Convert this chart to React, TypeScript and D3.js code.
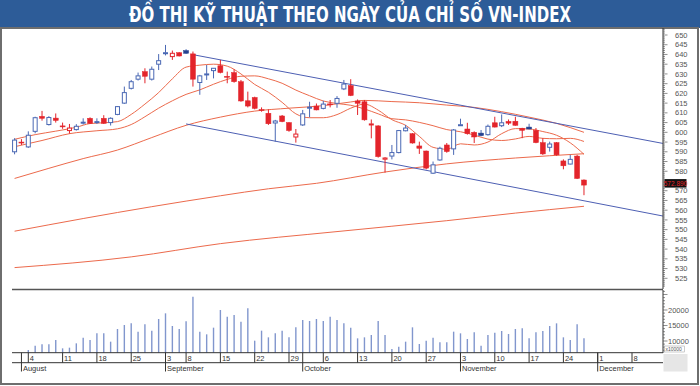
import React from "react";
import * as d3 from "d3";

const TITLE = "ĐỒ THỊ KỸ THUẬT THEO NGÀY CỦA CHỈ SỐ VN-INDEX";
const FIRST_INDEX = -2;
const PREV_CLOSE = 589;
const opens = [590, 595, 592.5, 600.5, 608.2, 604, 607.3, 603.3, 600.9, 601.4, 605.1, 607.2, 605.4, 607.2, 605, 609.2, 615, 622.6, 627.3, 631.2, 627.3, 635, 640.7, 638.9, 640.9, 642, 640.3, 625.6, 629.9, 631.7, 634.2, 628.8, 630.7, 626, 616.2, 617.9, 611.7, 609.8, 604.8, 608.4, 605, 597.6, 603.8, 612.7, 613.5, 612.3, 614.6, 614.9, 622.3, 624, 616.1, 615.7, 603.8, 603.3, 586.2, 587.8, 589.6, 600.8, 599.3, 593, 590.4, 579, 585.8, 593.5, 591.5, 603.6, 601.7, 600, 599.6, 598.8, 604.9, 603.4, 605.6, 605.7, 602.1, 602.7, 601, 594.7, 592.3, 594.7, 585.3, 583.7, 587.8, 575.5];
const highs = [597, 596.5, 600.5, 608, 611, 608.3, 609.7, 605, 604.3, 604.2, 607.2, 607.7, 607.2, 608.8, 607.7, 613.5, 623.5, 626.9, 630.7, 632.9, 633.8, 640.2, 644.9, 642, 641.2, 642.7, 641.5, 629.5, 634.6, 633, 637.2, 631.2, 632.4, 626.9, 620.9, 618.3, 612.8, 611.8, 606.4, 608.9, 605.2, 601.7, 611.5, 615.7, 614.8, 616.2, 616.6, 618.6, 626.9, 627.3, 616.9, 616.6, 606.6, 603.6, 587.2, 593.5, 601.2, 603.8, 599.6, 595.2, 590.6, 585, 592.6, 594.5, 601.7, 607, 604.9, 600.5, 601.2, 604, 608, 609.2, 606.6, 608, 602.3, 604.4, 602.2, 597, 595.2, 595, 586.1, 588.4, 588.4, 575.8];
const lows = [588.7, 593.5, 592, 599.5, 606, 603.5, 605, 601.8, 599.3, 600.9, 604, 604.3, 604.3, 604.3, 603.5, 608.8, 614.6, 622, 626.6, 625.2, 626.6, 632, 639.5, 637.2, 639, 640.3, 623.5, 619.3, 626.9, 627.7, 630.3, 625.2, 625.5, 615.7, 612.8, 611.8, 610.6, 603.8, 595.2, 605.2, 600.3, 594.7, 603.3, 607.7, 611.3, 611.8, 612.8, 612.6, 621.7, 618.6, 608.9, 606, 596.9, 587, 579.3, 586.1, 589.2, 600.5, 594.2, 588.9, 581, 578.6, 585.4, 589.5, 588.4, 603.3, 598.8, 594.5, 598, 598.3, 602.5, 602.7, 603.8, 603.4, 597, 601.5, 594.4, 588.4, 590.1, 588, 581, 583.5, 576, 567.7];
const closes = [596, 594.5, 598.5, 607.5, 607.2, 607.6, 606.1, 603, 602.2, 603.1, 605.2, 604.6, 605.5, 604.6, 607.2, 613.2, 620.4, 626, 629, 628.8, 632.4, 636.8, 640.9, 640.6, 639.2, 640.6, 627.3, 629, 630, 632.9, 630.7, 628.4, 626, 616.1, 613.5, 612.3, 611.3, 604.4, 605.8, 605.5, 600.9, 599.1, 609.5, 612.9, 611.5, 614.5, 614.2, 617.4, 624.8, 618.9, 614.9, 606.4, 604.3, 587.5, 586.8, 589.6, 600.9, 602.2, 594.5, 591.8, 581.6, 583.3, 591.8, 590.1, 601.2, 603.9, 599.3, 597.6, 598.3, 603.1, 602.7, 604.9, 604.7, 603.6, 601, 601.7, 594.7, 588.9, 594, 588.4, 582.8, 586.1, 576.3, 572.89];

const VOL_FIRST_INDEX = 0;
const volumes = [7097, 8495, 8925, 8925, 10323, 7634, 7849, 9247, 11075, 10323, 12474, 12474, 9785, 13871, 15162, 15700, 13011, 15377, 13334, 17097, 18926, 14839, 13871, 16345, 24301, 13011, 12151, 14301, 20001, 17850, 18388, 16236, 20539, 10108, 13334, 11183, 12474, 13334, 11183, 14408, 16775, 16452, 17097, 16452, 17850, 16775, 15700, 14301, 10860, 11183, 11936, 16452, 11936, 7419, 8172, 9785, 14408, 9032, 10108, 11075, 9570, 9570, 13011, 12474, 10645, 12796, 8495, 11936, 12689, 13226, 12258, 13871, 14086, 10860, 12796, 13226, 14839, 15700, 11183, 10323, 15377, 10860];

const ma10Idx = [-2, 1, 4, 7, 9, 11, 13, 15, 17, 19, 21, 23, 25, 27, 29, 31, 33, 35, 37, 39, 41, 43, 45, 47, 49, 51, 53, 55, 57, 59, 61, 63, 65, 67, 69, 71, 73, 75, 77, 79, 81];
const ma10Val = [596.4, 598.8, 600.6, 602.6, 604.5, 604.9, 605.5, 609.2, 614.5, 620.4, 627.5, 633.5, 634.5, 635, 634, 630, 624.6, 620.6, 615.4, 609.5, 607.5, 607.5, 609.1, 612.4, 614.5, 611.4, 606.5, 603.6, 597.9, 592.3, 591.3, 594.1, 593.5, 595, 599.3, 601.9, 601.7, 600.4, 598.5, 594.6, 588.7];
const ma20Idx = [-2, 2, 6, 10, 13, 15, 17, 19, 21, 23, 25, 27, 29, 31, 33, 35, 37, 39, 41, 43, 45, 47, 49, 51, 53, 55, 57, 59, 61, 63, 65, 67, 69, 71, 73, 75, 77, 79, 81];
const ma20Val = [592.6, 595.8, 599.3, 600.8, 601.8, 604, 608, 612.4, 616.2, 619.5, 621.8, 624.7, 627.2, 628.8, 629, 627.5, 625.2, 621.7, 618.8, 616.1, 614.8, 613.9, 612, 609.5, 607, 606.4, 605.1, 603.4, 601.4, 600.3, 598.6, 596.5, 595.8, 596.6, 597.9, 596.9, 596.7, 596.9, 595.3];
const ma50Idx = [-2, 3, 8, 13, 18, 23, 28, 33, 38, 43, 47, 49, 53, 57, 61, 65, 69, 73, 77, 81];
const ma50Val = [576.3, 581.5, 586.5, 590.9, 597.3, 603.6, 607.8, 610.9, 612.4, 613.7, 615.6, 616.4, 615.8, 615.2, 614, 612.8, 610.6, 607.8, 604.6, 600];
const ma100Idx = [-2, 8, 18, 28, 35, 42, 52, 61, 71, 81];
const ma100Val = [549.2, 555.7, 561.8, 567.4, 571, 573.8, 579.6, 583.8, 586.8, 589];
const ma200Idx = [-2, 15, 28, 45, 61, 71, 81];
const ma200Val = [530.5, 536, 542.8, 549, 554.6, 558.5, 562];

const channelUpperIdx = [24, 92.5];
const channelUpperVal = [639.9, 594.3];
const channelLowerIdx = [23, 92.5];
const channelLowerVal = [604.3, 557];

const priceTicks = [525, 530, 535, 540, 545, 550, 555, 560, 565, 570, 575, 580, 585, 590, 595, 600, 605, 610, 615, 620, 625, 630, 635, 640, 645, 650];
const hiddenPriceLabel = 575; // covered by the last-price marker in the reference
const volTicks = [10000, 15000, 20000];
const dayTickIdx = [0, 5, 10, 15, 20, 23, 28, 33, 38, 43, 48, 53, 58, 63, 68, 73, 78, 83, 88];
const dayTickLabels = ["4", "11", "18", "25", "3", "8", "15", "22", "29", "6", "13", "20", "27", "3", "10", "17", "24", "1", "8"];
const monthIdx = [-1, 20, 40, 63, 83];
const monthLabels = ["August", "September", "October", "November", "December"];
const LAST_LABEL = "572.890";

const W = 700;
const H = 386;
const PLOT_L = 12;
const AXIS_X = 663;
const FONT = "'Liberation Sans', Arial, sans-serif";

export default function App() {
  const x = d3.scaleLinear().domain([0, 83]).range([28.3, 597.7]);
  const y = d3.scaleLinear().domain([525, 650]).range([278.3, 35]);
  const vy = d3.scaleLinear().domain([6226, 20000]).range([352.7, 310]);

  const blue = "#4a68b4";
  const blueDark = "#24418f";
  const red = "#e3242b";
  const maColor = "#ec6a4c";
  const chanColor = "#4d5fb3";

  const lineGen = d3
    .line<[number, number]>()
    .x((d) => x(d[0]))
    .y((d) => y(d[1]))
    .curve(d3.curveMonotoneX);
  const straight = d3
    .line<[number, number]>()
    .x((d) => x(d[0]))
    .y((d) => y(d[1]));

  const mk = (idx: number[], val: number[]) => idx.map((d, k) => [d, val[k]] as [number, number]);
  const maSeries = [
    mk(ma10Idx, ma10Val),
    mk(ma20Idx, ma20Val),
    mk(ma50Idx, ma50Val),
    mk(ma100Idx, ma100Val),
    mk(ma200Idx, ma200Val),
  ];

  const candles = opens.map((o, k) => {
    const i = FIRST_INDEX + k;
    const c = closes[k];
    const prev = k === 0 ? PREV_CLOSE : closes[k - 1];
    const up = c >= prev;
    const filled = c < o;
    return { i, o, h: highs[k], l: lows[k], c, up, filled };
  });

  const minorPrice = d3.range(521, 654, 1);
  const minorVol = d3.range(7000, 27000, 1000);
  const lastY = y(closes[closes.length - 1]);

  return (
    <svg
      width={W}
      height={H}
      viewBox={`0 0 ${W} ${H}`}
      style={{ position: "absolute", left: 0, top: 0, display: "block", background: "#fff" }}
    >
      {/* title band */}
      <rect x={0} y={0} width={W} height={28} fill="#2d5c98" />
      <text
        x={350}
        y={22}
        textAnchor="middle"
        fill="#fff"
        fontFamily="'DejaVu Sans Condensed', 'DejaVu Sans', sans-serif"
        fontWeight="bold"
        fontSize={21}
        textLength={442}
        lengthAdjust="spacingAndGlyphs"
      >
        {TITLE}
      </text>

      {/* frame */}
      <rect x={1} y={28} width={697} height={356} fill="none" stroke="#6e6e6e" strokeWidth={2} />

      {/* MAs */}
      {maSeries.map((s, k) => (
        <path key={"ma" + k} d={lineGen(s) || ""} fill="none" stroke={maColor} strokeWidth={1} />
      ))}

      {/* channel */}
      <path d={straight(mk(channelUpperIdx, channelUpperVal)) || ""} stroke={chanColor} strokeWidth={1} fill="none" />
      <path d={straight(mk(channelLowerIdx, channelLowerVal)) || ""} stroke={chanColor} strokeWidth={1} fill="none" />

      {/* candles */}
      {candles.map((d) => {
        const cx = x(d.i);
        const col = d.up ? blue : red;
        const top = y(Math.max(d.o, d.c));
        const bot = y(Math.min(d.o, d.c));
        const hgt = Math.max(1, bot - top);
        return (
          <g key={"c" + d.i}>
            <line x1={cx} x2={cx} y1={y(d.h)} y2={y(d.l)} stroke={col} strokeWidth={1} />
            {d.filled ? (
              <rect x={cx - 2.5} y={top} width={5} height={hgt} fill={d.up ? blueDark : red} stroke={d.up ? blueDark : red} strokeWidth={0.5} />
            ) : (
              <rect x={cx - 2} y={top} width={4} height={hgt} fill="#fff" stroke={col} strokeWidth={1} />
            )}
          </g>
        );
      })}

      {/* price axis */}
      <line x1={AXIS_X} x2={AXIS_X} y1={28} y2={289} stroke="#333" strokeWidth={1} />
      {minorPrice.map((v) => (
        <line key={"mp" + v} x1={AXIS_X} x2={AXIS_X + (v % 5 === 0 ? 4.5 : 2)} y1={y(v)} y2={y(v)} stroke="#444" strokeWidth={0.6} />
      ))}
      {priceTicks
        .filter((v) => v !== hiddenPriceLabel)
        .map((v) => (
          <text key={"pt" + v} x={675} y={y(v) + 2.6} fontFamily={FONT} fontSize={7.5} fill="#555">
            {v}
          </text>
        ))}
      {/* last price label */}
      <rect x={664.5} y={lastY - 6} width={22} height={8.5} fill="#111" />
      <text x={675.5} y={lastY + 0.8} textAnchor="middle" fontFamily={FONT} fontSize={6.5} fill="#e0262b">
        {LAST_LABEL}
      </text>

      {/* separator */}
      <line x1={PLOT_L} x2={AXIS_X} y1={289.5} y2={289.5} stroke="#555" strokeWidth={1.5} />

      {/* volume */}
      {volumes.map((v, k) => (
        <line
          key={"v" + k}
          x1={x(VOL_FIRST_INDEX + k)}
          x2={x(VOL_FIRST_INDEX + k)}
          y1={vy(6226)}
          y2={vy(v)}
          stroke="#8196cd"
          strokeWidth={1.4}
        />
      ))}
      <line x1={AXIS_X} x2={AXIS_X} y1={290} y2={353} stroke="#333" strokeWidth={1} />
      {minorVol.map((v) => (
        <line key={"mv" + v} x1={AXIS_X} x2={AXIS_X + (v % 5000 === 0 ? 4.5 : 2)} y1={vy(v)} y2={vy(v)} stroke="#444" strokeWidth={0.6} />
      ))}
      {volTicks.map((v) => (
        <text key={"vt" + v} x={668} y={vy(v) + 2.6} fontFamily={FONT} fontSize={7.5} fill="#555">
          {v}
        </text>
      ))}
      <rect x={664.5} y={346} width={20} height={6} fill="#fff" stroke="#999" strokeWidth={0.5} />
      <text x={665.5} y={351} fontFamily={FONT} fontSize={5} fill="#555">
        x10000
      </text>

      {/* date band */}
      <line x1={PLOT_L} x2={AXIS_X} y1={352.7} y2={352.7} stroke="#333" strokeWidth={1} />
      <line x1={PLOT_L} x2={AXIS_X} y1={362.7} y2={362.7} stroke="#333" strokeWidth={1} />
      <rect x={663.5} y={354} width={24} height={17.5} fill="#e6e6e6" />
      {dayTickIdx.map((i, k) => (
        <g key={"d" + k}>
          <line x1={x(i)} x2={x(i)} y1={352.7} y2={362.7} stroke="#333" strokeWidth={1} />
          <text x={x(i) + 1.5} y={360.5} fontFamily={FONT} fontSize={7.5} fill="#333">
            {dayTickLabels[k]}
          </text>
        </g>
      ))}
      {monthIdx.map((i, k) => (
        <g key={"m" + k}>
          <line x1={x(i)} x2={x(i)} y1={352.7} y2={371.5} stroke="#333" strokeWidth={1} />
          <text x={x(i) + 1.5} y={370.5} fontFamily={FONT} fontSize={7.5} fill="#333">
            {monthLabels[k]}
          </text>
        </g>
      ))}
    </svg>
  );
}
